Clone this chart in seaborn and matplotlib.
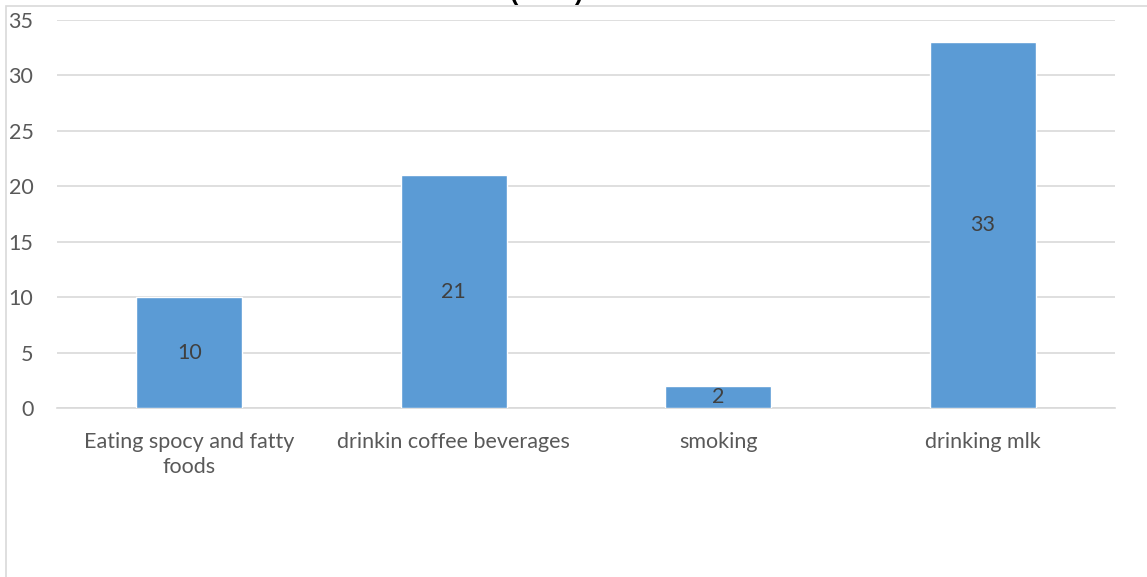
import matplotlib
matplotlib.use("Agg")
import matplotlib.pyplot as plt
import seaborn as sns
import pandas as pd
from matplotlib.patches import Rectangle

categories = ["Eating spocy and fatty\nfoods", "drinkin coffee beverages", "smoking", "drinking mlk"]
values = [10, 21, 2, 33]
yticks = [0, 5, 10, 15, 20, 25, 30, 35]
title = "(n=66)"

sns.set_theme(style="white")
plt.rcParams['font.family'] = ['Lato', 'DejaVu Sans']

df = pd.DataFrame({"cat": categories, "val": values})

fig = plt.figure(figsize=(11.47, 5.77), dpi=100)
ax = fig.add_axes([57/1147, 1-408/577, (1115-57)/1147, (408-20)/577])

sns.barplot(data=df, x="cat", y="val", color="#5B9BD5", saturation=1, width=0.4, ax=ax, zorder=3)

ax.set_ylim(0, 35)
ax.set_yticks(yticks)
ax.set_xlim(-0.5, 3.5)
ax.yaxis.grid(True, color="#D9D9D9", linewidth=1.2, zorder=0)
ax.set_axisbelow(True)
for s in ["top", "right", "left"]:
    ax.spines[s].set_visible(False)
ax.spines["bottom"].set_color("#D9D9D9")
ax.spines["bottom"].set_linewidth(1.2)
ax.set_xlabel("")
ax.set_ylabel("")
ax.tick_params(axis="both", length=0, labelsize=15.5, colors="#595959")
ax.tick_params(axis="y", pad=17)
ax.tick_params(axis="x", pad=17)
for lbl in ax.get_xticklabels():
    lbl.set_linespacing(1.35)

for c in ax.containers:
    ax.bar_label(c, label_type="center", fontsize=15.5, color="#404040")

fig.text(547/1147, 1 - 0/577, title, ha="center", va="baseline", fontsize=18, fontweight="bold",
         family=["Liberation Sans", "DejaVu Sans"], color="black")

fig.patches.append(Rectangle((6/1147, -0.1), 1.2, 1 - 6/577 + 0.1, transform=fig.transFigure,
                             fill=False, edgecolor="#D9D9D9", linewidth=1.2))

fig.savefig("out.png", dpi=100)
